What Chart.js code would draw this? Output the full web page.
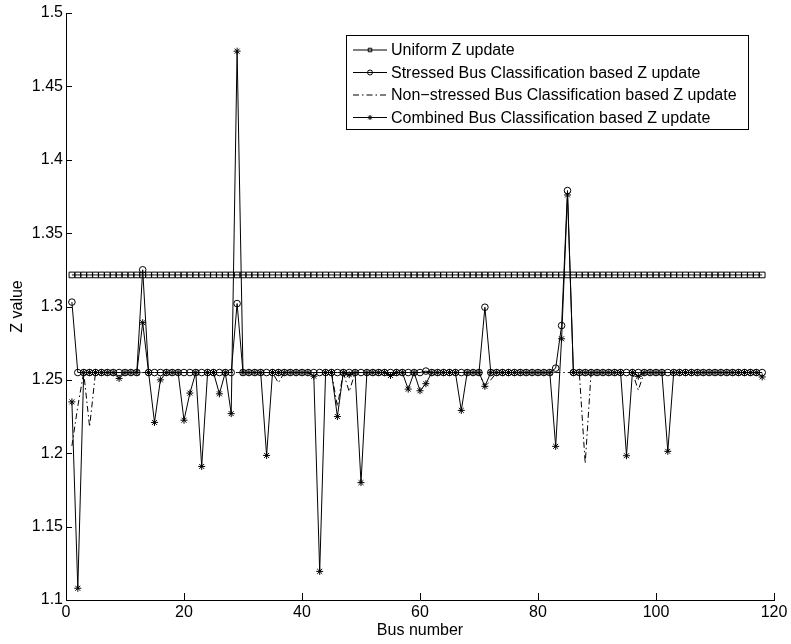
<!DOCTYPE html>
<html>
<head>
<meta charset="utf-8">
<script src="https://cdn.jsdelivr.net/npm/chart.js@4/dist/chart.umd.min.js"></script>
<style>
  body { margin: 0; background: #fff; }
  #wrap { width: 791px; height: 644px; }
</style>
</head>
<body>
<div id="wrap"><canvas id="zChart" width="791" height="644"></canvas></div>
<script>
// Z value per bus for the four update schemes

const buses = [
  1, 2, 3, 4, 5, 6, 7, 8, 9, 10,
  11, 12, 13, 14, 15, 16, 17, 18, 19, 20,
  21, 22, 23, 24, 25, 26, 27, 28, 29, 30,
  31, 32, 33, 34, 35, 36, 37, 38, 39, 40,
  41, 42, 43, 44, 45, 46, 47, 48, 49, 50,
  51, 52, 53, 54, 55, 56, 57, 58, 59, 60,
  61, 62, 63, 64, 65, 66, 67, 68, 69, 70,
  71, 72, 73, 74, 75, 76, 77, 78, 79, 80,
  81, 82, 83, 84, 85, 86, 87, 88, 89, 90,
  91, 92, 93, 94, 95, 96, 97, 98, 99, 100,
  101, 102, 103, 104, 105, 106, 107, 108, 109, 110,
  111, 112, 113, 114, 115, 116, 117, 118
];

const uniformZ = [
  1.3215, 1.3215, 1.3215, 1.3215, 1.3215, 1.3215, 1.3215, 1.3215, 1.3215, 1.3215,
  1.3215, 1.3215, 1.3215, 1.3215, 1.3215, 1.3215, 1.3215, 1.3215, 1.3215, 1.3215,
  1.3215, 1.3215, 1.3215, 1.3215, 1.3215, 1.3215, 1.3215, 1.3215, 1.3215, 1.3215,
  1.3215, 1.3215, 1.3215, 1.3215, 1.3215, 1.3215, 1.3215, 1.3215, 1.3215, 1.3215,
  1.3215, 1.3215, 1.3215, 1.3215, 1.3215, 1.3215, 1.3215, 1.3215, 1.3215, 1.3215,
  1.3215, 1.3215, 1.3215, 1.3215, 1.3215, 1.3215, 1.3215, 1.3215, 1.3215, 1.3215,
  1.3215, 1.3215, 1.3215, 1.3215, 1.3215, 1.3215, 1.3215, 1.3215, 1.3215, 1.3215,
  1.3215, 1.3215, 1.3215, 1.3215, 1.3215, 1.3215, 1.3215, 1.3215, 1.3215, 1.3215,
  1.3215, 1.3215, 1.3215, 1.3215, 1.3215, 1.3215, 1.3215, 1.3215, 1.3215, 1.3215,
  1.3215, 1.3215, 1.3215, 1.3215, 1.3215, 1.3215, 1.3215, 1.3215, 1.3215, 1.3215,
  1.3215, 1.3215, 1.3215, 1.3215, 1.3215, 1.3215, 1.3215, 1.3215, 1.3215, 1.3215,
  1.3215, 1.3215, 1.3215, 1.3215, 1.3215, 1.3215, 1.3215, 1.3215
];

const stressedZ = [
  1.303, 1.255, 1.255, 1.255, 1.255, 1.255, 1.255, 1.255, 1.255, 1.255,
  1.255, 1.255, 1.325, 1.255, 1.255, 1.255, 1.255, 1.255, 1.255, 1.255,
  1.255, 1.255, 1.255, 1.255, 1.255, 1.255, 1.255, 1.255, 1.302, 1.255,
  1.255, 1.255, 1.255, 1.255, 1.255, 1.255, 1.255, 1.255, 1.255, 1.255,
  1.255, 1.255, 1.255, 1.255, 1.255, 1.255, 1.255, 1.255, 1.255, 1.255,
  1.255, 1.255, 1.255, 1.255, 1.255, 1.255, 1.255, 1.255, 1.255, 1.255,
  1.256, 1.255, 1.255, 1.255, 1.255, 1.255, 1.255, 1.255, 1.255, 1.255,
  1.2995, 1.255, 1.255, 1.255, 1.255, 1.255, 1.255, 1.255, 1.255, 1.255,
  1.255, 1.255, 1.258, 1.287, 1.379, 1.255, 1.255, 1.255, 1.255, 1.255,
  1.255, 1.255, 1.255, 1.255, 1.255, 1.255, 1.255, 1.255, 1.255, 1.255,
  1.255, 1.255, 1.255, 1.255, 1.255, 1.255, 1.255, 1.255, 1.255, 1.255,
  1.255, 1.255, 1.255, 1.255, 1.255, 1.255, 1.255, 1.255
];

const nonStressedZ = [
  1.205, 1.232, 1.255, 1.218, 1.255, 1.255, 1.255, 1.255, 1.255, 1.255,
  1.255, 1.255, 1.255, 1.255, 1.255, 1.255, 1.255, 1.255, 1.255, 1.255,
  1.255, 1.255, 1.255, 1.255, 1.255, 1.255, 1.255, 1.255, 1.255, 1.255,
  1.255, 1.255, 1.255, 1.255, 1.255, 1.248, 1.255, 1.255, 1.255, 1.255,
  1.255, 1.255, 1.255, 1.255, 1.255, 1.232, 1.255, 1.242, 1.255, 1.255,
  1.255, 1.255, 1.255, 1.255, 1.255, 1.255, 1.255, 1.255, 1.255, 1.255,
  1.255, 1.255, 1.255, 1.255, 1.255, 1.255, 1.255, 1.255, 1.255, 1.255,
  1.245, 1.250, 1.255, 1.255, 1.255, 1.255, 1.255, 1.255, 1.255, 1.255,
  1.255, 1.255, 1.255, 1.255, 1.255, 1.255, 1.255, 1.193, 1.255, 1.255,
  1.255, 1.255, 1.255, 1.255, 1.255, 1.255, 1.243, 1.255, 1.255, 1.255,
  1.255, 1.255, 1.255, 1.255, 1.255, 1.255, 1.255, 1.255, 1.255, 1.255,
  1.255, 1.255, 1.255, 1.255, 1.255, 1.255, 1.255, 1.255
];

const combinedZ = [
  1.235, 1.108, 1.255, 1.255, 1.255, 1.255, 1.255, 1.255, 1.251, 1.255,
  1.255, 1.255, 1.289, 1.255, 1.221, 1.250, 1.255, 1.255, 1.255, 1.2225,
  1.241, 1.255, 1.191, 1.255, 1.255, 1.2405, 1.255, 1.227, 1.474, 1.255,
  1.255, 1.255, 1.255, 1.1985, 1.255, 1.255, 1.255, 1.255, 1.255, 1.255,
  1.255, 1.2525, 1.1195, 1.255, 1.255, 1.225, 1.255, 1.2535, 1.255, 1.180,
  1.255, 1.255, 1.255, 1.255, 1.253, 1.255, 1.255, 1.2437, 1.255, 1.2426,
  1.2474, 1.255, 1.255, 1.255, 1.255, 1.255, 1.2292, 1.255, 1.255, 1.255,
  1.2456, 1.255, 1.255, 1.255, 1.255, 1.255, 1.255, 1.255, 1.255, 1.255,
  1.255, 1.255, 1.2047, 1.278, 1.376, 1.255, 1.255, 1.255, 1.255, 1.255,
  1.255, 1.255, 1.255, 1.255, 1.1983, 1.255, 1.2524, 1.255, 1.255, 1.255,
  1.255, 1.2013, 1.255, 1.255, 1.255, 1.255, 1.255, 1.255, 1.255, 1.255,
  1.255, 1.255, 1.255, 1.255, 1.255, 1.255, 1.255, 1.252
];

const seriesLabels = [
  'Uniform Z update',
  'Stressed Bus Classification based Z update',
  'Non\u2212stressed Bus Classification based Z update',
  'Combined Bus Classification based Z update'
];

const xTicks = [0, 20, 40, 60, 80, 100, 120];
const xTickLabels = ['0', '20', '40', '60', '80', '100', '120'];
const yTicks = [1.1, 1.15, 1.2, 1.25, 1.3, 1.35, 1.4, 1.45, 1.5];
const yTickLabels = ['1.1', '1.15', '1.2', '1.25', '1.3', '1.35', '1.4', '1.45', '1.5'];

const FONT = '"Liberation Sans", Arial, Helvetica, sans-serif';
Chart.defaults.font.family = FONT;
Chart.defaults.font.size = 16;
Chart.defaults.color = '#000';

function pts(ys) {
  return buses.map((b, i) => ({ x: b, y: ys[i] }));
}

// ticks point inward, matlab style
const innerTicks = {
  id: 'innerTicks',
  afterDatasetsDraw(chart) {
    const ctx = chart.ctx;
    const xs = chart.scales.x, ys = chart.scales.y;
    const area = chart.chartArea;
    ctx.save();
    ctx.setLineDash([]);
    ctx.strokeStyle = '#000';
    ctx.lineWidth = 1;
    ctx.beginPath();
    xTicks.forEach(v => {
      const px = Math.round(xs.getPixelForValue(v)) + 0.5;
      ctx.moveTo(px, area.bottom);
      ctx.lineTo(px, area.bottom - 7);
    });
    yTicks.forEach(v => {
      const py = Math.round(ys.getPixelForValue(v)) + 0.5;
      ctx.moveTo(area.left, py);
      ctx.lineTo(area.left + 6, py);
    });
    ctx.stroke();
    ctx.restore();
  }
};

// boxed legend in the top right corner
const boxLegend = {
  id: 'boxLegend',
  afterDraw(chart) {
    const ctx = chart.ctx;
    ctx.save();
    ctx.fillStyle = '#fff';
    ctx.fillRect(346.5, 35.5, 402, 94);
    ctx.strokeStyle = '#000';
    ctx.lineWidth = 1;
    ctx.strokeRect(346.5, 35.5, 402, 94);
    ctx.font = '16px ' + FONT;
    ctx.textBaseline = 'middle';
    chart.data.datasets.forEach((ds, i) => {
      const y = 50 + i * 22.5;
      ctx.strokeStyle = '#000';
      ctx.lineWidth = 1;
      ctx.setLineDash(ds.borderDash || []);
      ctx.beginPath();
      ctx.moveTo(353, y);
      ctx.lineTo(387, y);
      ctx.stroke();
      ctx.setLineDash([]);
      if (ds.pointRadius > 0) {
        ctx.fillStyle = 'rgba(0,0,0,0)';
        Chart.helpers.drawPoint(ctx, { pointStyle: ds.pointStyle, radius: 2.5, borderWidth: 1, rotation: 0 }, 370, y);
      }
      ctx.fillStyle = '#000';
      ctx.fillText(ds.label, 391, y + 1);
    });
    ctx.restore();
  }
};

new Chart(document.getElementById('zChart'), {
  type: 'line',
  data: {
    datasets: [
      {
        label: seriesLabels[0],
        data: pts(uniformZ),
        borderColor: '#000', borderWidth: 1,
        pointStyle: 'rect', pointRadius: 4,
        pointBorderColor: '#000', pointBackgroundColor: 'rgba(0,0,0,0)', pointBorderWidth: 1,
        order: 3
      },
      {
        label: seriesLabels[1],
        data: pts(stressedZ),
        borderColor: '#000', borderWidth: 1,
        pointStyle: 'circle', pointRadius: 3.3,
        pointBorderColor: '#000', pointBackgroundColor: 'rgba(0,0,0,0)', pointBorderWidth: 1,
        order: 2
      },
      {
        label: seriesLabels[2],
        data: pts(nonStressedZ),
        borderColor: '#000', borderWidth: 1,
        borderDash: [6, 3, 1.5, 3],
        pointRadius: 0,
        order: 1
      },
      {
        label: seriesLabels[3],
        data: pts(combinedZ),
        borderColor: '#000', borderWidth: 1,
        pointStyle: 'star', pointRadius: 3.5,
        pointBorderColor: '#000', pointBackgroundColor: 'rgba(0,0,0,0)', pointBorderWidth: 1,
        order: 0
      }
    ]
  },
  options: {
    responsive: false,
    animation: false,
    layout: { padding: { top: 13, right: 17, left: 0, bottom: 0 } },
    plugins: {
      legend: { display: false },
      tooltip: { enabled: false }
    },
    scales: {
      x: {
        type: 'linear',
        min: 0, max: 120,
        afterBuildTicks: s => { s.ticks = xTicks.map(v => ({ value: v })); },
        afterFit: s => { s.height = 44; },
        ticks: { padding: 3, maxRotation: 0, callback: (v, i) => xTickLabels[i] },
        grid: { display: false, drawTicks: false, tickLength: 0 },
        border: { display: true, color: '#000', width: 1 },
        title: { display: true, text: 'Bus number', padding: { top: 0, bottom: 4 } }
      },
      y: {
        type: 'linear',
        min: 1.1, max: 1.5,
        afterBuildTicks: s => { s.ticks = yTicks.map(v => ({ value: v })); },
        afterFit: s => { s.width = 66; },
        ticks: { padding: 3, callback: (v, i) => yTickLabels[i] },
        grid: { display: false, drawTicks: false, tickLength: 0 },
        border: { display: true, color: '#000', width: 1 },
        title: { display: true, text: 'Z value', padding: { top: 8, bottom: 0 } }
      }
    }
  },
  plugins: [innerTicks, boxLegend]
});
</script>
</body>
</html>
